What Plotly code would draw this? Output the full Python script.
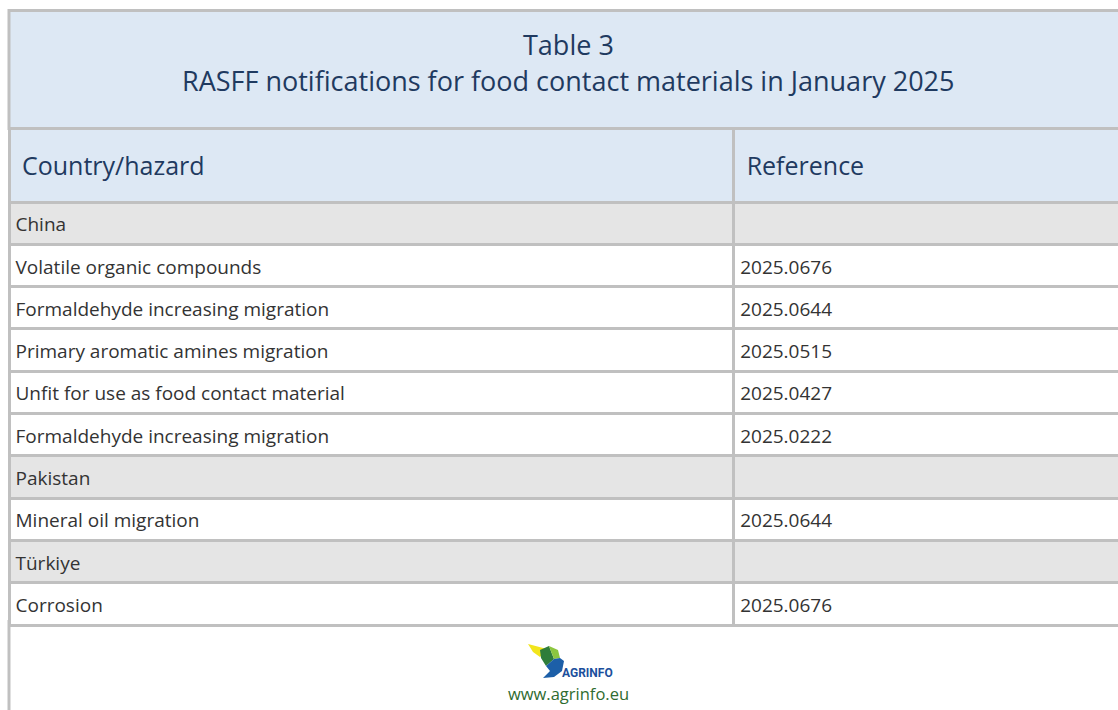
import plotly.graph_objects as go

W, H = 1126, 710  # slightly wider than the 1118px window: the table runs off the right edge, as in the reference

title_line1 = "Table 3"
title_line2 = "RASFF notifications for food contact materials in January 2025"
header_labels = ["Country/hazard", "Reference"]

row_labels = [
    "China",
    "Volatile organic compounds",
    "Formaldehyde increasing migration",
    "Primary aromatic amines migration",
    "Unfit for use as food contact material",
    "Formaldehyde increasing migration",
    "Pakistan",
    "Mineral oil migration",
    "Türkiye",
    "Corrosion",
]
references = [
    "",
    "2025.0676",
    "2025.0644",
    "2025.0515",
    "2025.0427",
    "2025.0222",
    "",
    "2025.0644",
    "",
    "2025.0676",
]
is_country = [True, False, False, False, False, False, True, False, True, False]

FONT = "Open Sans"
BLUE_FILL = "#dde8f4"
GREY_FILL = "#e5e5e5"
BORDER = "#c0c0c0"
NAVY = "#1f3a60"
TEXT = "#333333"
CLEAR = "rgba(0,0,0,0)"

TITLE_SIZE = 27
HEADER_SIZE = 25
BODY_SIZE = 19

HEADER_TOP = 128.5
HEADER_H = 73.5
ROW_H = 42.3
LEFT = 9
COL_W = [724, W - LEFT - 724]
HEADER_TEXT_DY = 20   # pushes header text toward the cell's vertical middle
BODY_TEXT_DY = 7      # pushes body text toward the cell's vertical middle
TEXT_DX = -1.5


def px(x):
    return x / W


def py(y):
    return 1 - y / H


row_fill = [GREY_FILL if c else "white" for c in is_country]
n = len(row_labels)

# table 1: cell backgrounds and borders
grid = go.Table(
    domain=dict(x=[px(LEFT), 1], y=[0, py(HEADER_TOP)]),
    columnwidth=COL_W,
    header=dict(
        values=["", ""],
        height=HEADER_H,
        fill_color=BLUE_FILL,
        line=dict(color=BORDER, width=3),
    ),
    cells=dict(
        values=[[""] * n, [""] * n],
        height=ROW_H,
        fill_color=[row_fill, row_fill],
        line=dict(color=BORDER, width=3),
    ),
)

# table 2: the texts, drawn over the grid and centred vertically in the cells
texts = go.Table(
    domain=dict(x=[px(LEFT + TEXT_DX), 1], y=[0, py(HEADER_TOP + HEADER_TEXT_DY)]),
    columnwidth=COL_W,
    header=dict(
        values=["\u00a0" + h for h in header_labels],
        align="left",
        height=HEADER_H - HEADER_TEXT_DY + BODY_TEXT_DY,
        fill_color=CLEAR,
        line=dict(color=CLEAR, width=0),
        font=dict(family=FONT, size=HEADER_SIZE, color=NAVY),
    ),
    cells=dict(
        values=[row_labels, references],
        align="left",
        height=ROW_H,
        fill_color=CLEAR,
        line=dict(color=CLEAR, width=0),
        font=dict(family=FONT, size=BODY_SIZE, color=TEXT),
    ),
)

fig = go.Figure([grid, texts])

shapes = []
# title box
shapes.append(dict(type="rect", xref="paper", yref="paper",
                   x0=px(LEFT), x1=1.02, y0=py(HEADER_TOP), y1=py(10.5),
                   fillcolor=BLUE_FILL, line=dict(color=BORDER, width=3), layer="below"))
# left border continuing below the table
shapes.append(dict(type="line", xref="paper", yref="paper",
                   x0=px(LEFT), x1=px(LEFT), y0=py(620), y1=-0.01,
                   line=dict(color=BORDER, width=3)))


# logo (drawn approximation)
def path(points):
    return "M " + " L ".join(f"{px(x)},{py(y)}" for x, y in points) + " Z"


shapes.append(dict(type="path", xref="paper", yref="paper",
                   path=path([(528, 644), (547, 649), (540, 657), (533, 652)]),
                   fillcolor="#f2e51c", line=dict(width=0)))
shapes.append(dict(type="path", xref="paper", yref="paper",
                   path=path([(540, 650), (549, 646), (554, 659), (546, 666), (541, 658)]),
                   fillcolor="#2f7d3a", line=dict(width=0)))
shapes.append(dict(type="path", xref="paper", yref="paper",
                   path=path([(549, 646), (558, 650), (560, 658), (554, 659)]),
                   fillcolor="#8cc63f", line=dict(width=0)))
shapes.append(dict(type="path", xref="paper", yref="paper",
                   path=path([(546, 666), (554, 659), (560, 658), (564, 661), (562, 671), (554, 677), (543, 678), (550, 671)]),
                   fillcolor="#1c5fa8", line=dict(width=0)))

annotations = [
    dict(text=title_line1, x=px(568), y=py(44), xref="paper", yref="paper",
         showarrow=False, font=dict(family=FONT, size=TITLE_SIZE, color=NAVY),
         xanchor="center", yanchor="middle"),
    dict(text=title_line2, x=px(567.5), y=py(81), xref="paper", yref="paper",
         showarrow=False, font=dict(family=FONT, size=TITLE_SIZE, color=NAVY),
         xanchor="center", yanchor="middle"),
    dict(text="<b>AGRINFO</b>", x=px(587), y=py(673), xref="paper", yref="paper",
         showarrow=False, font=dict(family="Roboto", size=12, color="#1c4f9c"),
         xanchor="center", yanchor="middle"),
    dict(text="www.agrinfo.eu", x=px(568), y=py(693), xref="paper", yref="paper",
         showarrow=False, font=dict(family=FONT, size=16.5, color="#2f6b30"),
         xanchor="center", yanchor="middle"),
]

fig.update_layout(
    width=W, height=H,
    margin=dict(l=0, r=0, t=0, b=0),
    paper_bgcolor="white",
    plot_bgcolor="white",
    shapes=shapes,
    annotations=annotations,
    showlegend=False,
)

fig.write_html(
    "out.html",
    config={"displayModeBar": False},
    post_script=(
        "document.documentElement.style.overflow='hidden';"
        "document.body.style.margin='0';document.body.style.overflow='hidden';"
    ),
)
